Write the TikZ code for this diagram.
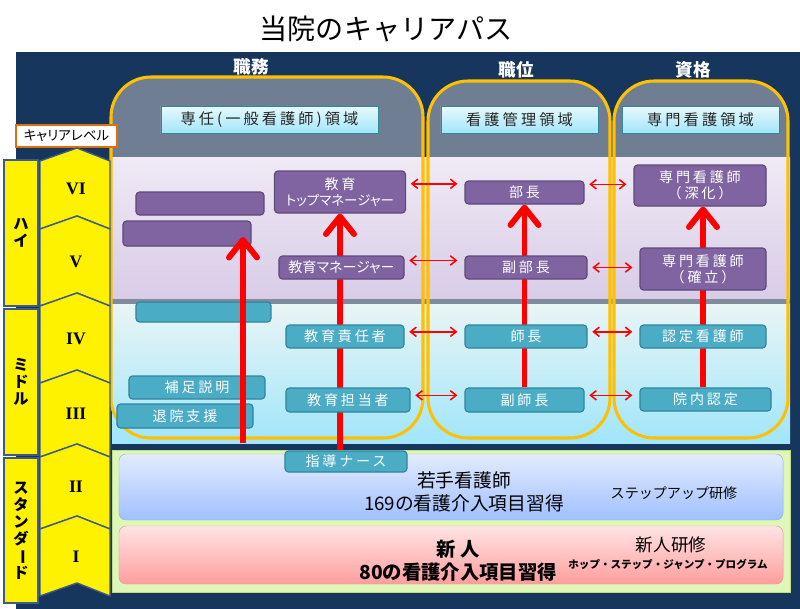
\documentclass[tikz,border=0pt]{standalone}
\usepackage{fontspec}
\usepackage{tikz}
\usetikzlibrary{arrows.meta}
\newfontfamily\jp{Noto Sans CJK JP}
\newfontfamily\jpwide{Noto Sans CJK JP}[LetterSpace=20]
\newfontfamily\jpnarrow{Noto Sans CJK JP}[RawFeature=+palt]
\newfontfamily\romfont{Liberation Serif}
\definecolor{navy}{RGB}{23,54,93}
\definecolor{slate}{RGB}{112,126,148}
\definecolor{colorange}{RGB}{255,192,0}
\definecolor{purplefill}{RGB}{128,100,162}
\definecolor{purpleedge}{RGB}{95,73,122}
\definecolor{tealfill}{RGB}{75,172,198}
\definecolor{tealedge}{RGB}{49,133,156}
\definecolor{headtop}{RGB}{232,249,253}
\definecolor{headbot}{RGB}{162,230,248}
\definecolor{chevedge}{RGB}{60,90,140}
\definecolor{levelorange}{RGB}{228,108,10}
\definecolor{highttop}{RGB}{240,234,245}
\definecolor{highbot}{RGB}{216,204,231}
\definecolor{midtop}{RGB}{234,245,245}
\definecolor{midbot}{RGB}{160,230,250}
\definecolor{divider}{RGB}{128,140,156}
\definecolor{stdfill}{RGB}{222,246,182}
\definecolor{stdedge}{RGB}{190,220,140}
\definecolor{bluetop}{RGB}{226,236,255}
\definecolor{bluebot}{RGB}{160,192,255}
\definecolor{blueedge}{RGB}{149,179,215}
\definecolor{redtop}{RGB}{255,228,228}
\definecolor{redbot}{RGB}{255,158,158}
\definecolor{rededge}{RGB}{230,150,150}
\pgfdeclarelayer{back}
\pgfdeclarelayer{arrows}
\pgfsetlayers{back,arrows,main}

\tikzset{
  purplebox/.style={draw=purpleedge, fill=purplefill, line width=1pt, rounded corners=3pt,
    text=white, font=\jpwide\fontsize{12pt}{14pt}\selectfont, align=center, inner sep=1pt},
  tealbox/.style={purplebox, draw=tealedge, fill=tealfill},
  headbox/.style={draw=tealedge, line width=0.8pt, top color=headtop, bottom color=headbot,
    minimum height=0.81cm, font=\jpwide\fontsize{13pt}{15pt}\selectfont, text=black!85},
  levelbox/.style={draw=chevedge, fill=yellow, line width=1.2pt, minimum width=1.02cm,
    font=\jp\bfseries\fontsize{13pt}{14.5pt}\selectfont, align=center},
  chevron/.style={draw=chevedge, fill=yellow, line width=1.2pt, line join=round},
  colhead/.style={text=white, font=\jp\bfseries\fontsize{15pt}{17pt}\selectfont},
  uparrow/.style={red, line width=5pt, -{Straight Barb[length=15pt,width=24pt,round]}},
  link/.style={red, line width=1.3pt,
    {Straight Barb[length=5pt,width=8pt]}-{Straight Barb[length=5pt,width=8pt]},
    shorten <=4pt, shorten >=6pt},
}

\begin{document}
\begin{tikzpicture}[x=0.03cm, y=-0.03cm]
  \useasboundingbox (0,0) rectangle (800,609);

  % background
  \begin{pgfonlayer}{back}
    \fill[navy] (16,52) rectangle (800,609);
    \foreach \xa/\ya/\xb in {111/77/423, 428/81/610, 614/81/788}
      \fill[slate, rounded corners=1.2cm] (\xa,\ya) rectangle (\xb,438);
    \shade[top color=highttop, bottom color=highbot] (112,157) rectangle (790,300);
    \shade[top color=midtop, bottom color=midbot] (112,303) rectangle (790,443);
    \fill[divider] (112,299) rectangle (790,304);
    \foreach \xa/\ya/\xb in {111/77/423, 428/81/610, 614/81/788}
      \draw[colorange, line width=2.6pt, rounded corners=1.2cm] (\xa,\ya) rectangle (\xb,438);
    \filldraw[fill=stdfill, draw=stdedge] (112,450) rectangle (790,592);
  \end{pgfonlayer}

  % title and column heads
  \node[font=\jp\fontsize{24pt}{28pt}\selectfont] (title) at (386,29) {当院のキャリアパス};
  \node[colhead] (shokumu) at (251,67) {職務};
  \node[colhead] (shokui) at (516,70) {職位};
  \node[colhead] (shikaku) at (693,70) {資格};
  \node[headbox, minimum width=6.51cm] (hdsennin) at (269.5,119.5) {専任(一般看護師)領域};
  \node[headbox, minimum width=4.71cm] (hdkanri) at (519.5,119.5) {看護管理領域};
  \node[headbox, minimum width=4.71cm] (hdsenmon) at (700.5,119.5) {専門看護領域};

  % career levels
  \node[draw=levelorange, fill=white, line width=1pt, minimum width=3.03cm, minimum height=0.66cm,
    inner sep=1pt, font=\jpnarrow\fontsize{11.5pt}{13pt}\selectfont] (career) at (66.5,136) {キャリアレベル};
  \node[levelbox, minimum height=4.38cm] (high) at (21,233) {ハ\\イ};
  \node[levelbox, minimum height=4.38cm] (middle) at (21,382) {ミ\\ド\\ル};
  \node[levelbox, minimum height=4.35cm] (standard) at (21,530.5)
    {ス\\タ\\ン\\ダ\\\rotatebox[origin=c]{-90}{ー}\\ド};
  \foreach \t/\b/\lv in {148/216/VI, 216/293/V, 293/370/IV, 370/444/III, 444/516/II, 516/583/I} {
    \draw[chevron] (40,\t+13) -- (77,\t) -- (110,\t+13) -- (110,\b+13) -- (77,\b) -- (40,\b+13) -- cycle;
    \node[font=\romfont\bfseries\fontsize{15pt}{15pt}\selectfont] (lv\lv) at (76,{(\t+\b)/2+7}) {\lv};
  }

  % high
  \node[purplebox, minimum width=3.84cm, minimum height=0.69cm] (blankA) at (200,203.5) {};
  \node[purplebox, minimum width=3.84cm, minimum height=0.75cm] (blankB) at (187,233.5) {};
  \node[purplebox, minimum width=3.93cm, minimum height=1.26cm] (toped) at (340,192)
    {教育\\{\jpnarrow\fontsize{11.5pt}{14pt}\selectfont トップマネージャー}};
  \node[purplebox, minimum width=3.75cm, minimum height=0.69cm, font=\jpnarrow\fontsize{12pt}{14pt}\selectfont]
    (edmgr) at (341.5,267.5) {教育マネージャー};
  \node[purplebox, minimum width=3.57cm, minimum height=0.69cm] (bucho) at (524.5,192.5) {部長};
  \node[purplebox, minimum width=3.66cm, minimum height=0.69cm] (fukubucho) at (526,267.5) {副部長};
  \node[purplebox, minimum width=3.96cm, minimum height=1.23cm] (shinka) at (700,185.5) {専門看護師\\（深化）};
  \node[purplebox, minimum width=3.78cm, minimum height=1.26cm] (kakuritsu) at (703,269) {専門看護師\\（確立）};

  % middle
  \node[tealbox, minimum width=4.05cm, minimum height=0.6cm] (blankC) at (203.5,312) {};
  \node[tealbox, minimum width=4.08cm, minimum height=0.69cm] (hosoku) at (197,387.5) {補足説明};
  \node[tealbox, minimum width=4.08cm, minimum height=0.72cm] (taiin) at (185,416) {退院支援};
  \node[tealbox, minimum width=3.54cm, minimum height=0.69cm] (sekinin) at (345,336.5) {教育責任者};
  \node[tealbox, minimum width=3.72cm, minimum height=0.72cm] (tanto) at (348,400) {教育担当者};
  \node[tealbox, minimum width=3.66cm, minimum height=0.69cm] (shicho) at (526,336.5) {師長};
  \node[tealbox, minimum width=3.57cm, minimum height=0.72cm] (fukushicho) at (524.5,400) {副師長};
  \node[tealbox, minimum width=3.78cm, minimum height=0.69cm] (nintei) at (703,336.5) {認定看護師};
  \node[tealbox, minimum width=3.93cm, minimum height=0.69cm] (innai) at (705.5,399.5) {院内認定};

  % standard
  \node[draw=blueedge, top color=bluetop, bottom color=bluebot, rounded corners=6pt,
    minimum width=19.92cm, minimum height=1.98cm] (wakate) at (451,487) {};
  \node[draw=rededge, top color=redtop, bottom color=redbot, rounded corners=6pt,
    minimum width=19.92cm, minimum height=1.74cm] (shinjin) at (451,555) {};
  \node[tealbox, minimum width=3.66cm, minimum height=0.63cm] (shidou) at (346,461.5) {指導ナース};
  \node[font=\jp\fontsize{16pt}{20pt}\selectfont, align=center] (wakatetxt) at (464,492)
    {若手看護師\\169の看護介入項目習得};
  \node[font=\jp\fontsize{12pt}{14pt}\selectfont] (stepup) at (674,493) {ステップアップ研修};
  \node[font=\jp\bfseries\fontsize{16.5pt}{20pt}\selectfont, align=center] (shinjintxt) at (458,561)
    {新 人\\80の看護介入項目習得};
  \node[font=\jp\fontsize{15pt}{17pt}\selectfont] (kenshu) at (671,545) {新人研修};
  \node[font=\jp\bfseries\fontsize{9pt}{11pt}\selectfont] (hop) at (668,564) {ホップ・ステップ・ジャンプ・プログラム};

  % red arrows
  \begin{pgfonlayer}{arrows}
    \draw[uparrow] (shidou.north -| toped.south) -- (toped.south);
    \draw[uparrow] (fukushicho.north) -- (bucho.south);
    \draw[uparrow] (innai.north -| nintei.north) -- (nintei.north |- shinka.south);
  \end{pgfonlayer}
  \coordinate (leftfoot) at (243,443);
  \draw[uparrow, shorten >=3pt] (leftfoot) -- (leftfoot |- blankB.center);

  \draw[link] ([yshift=7pt]toped.east) -- ([yshift=7pt]toped.east -| bucho.west);
  \draw[link] ([yshift=6pt]edmgr.east) -- ([yshift=6pt]edmgr.east -| fukubucho.west);
  \draw[link] ([yshift=4pt]sekinin.east) -- ([yshift=4pt]sekinin.east -| shicho.west);
  \draw[link] ([yshift=4pt]tanto.east) -- ([yshift=4pt]tanto.east -| fukushicho.west);
  \draw[link] ([yshift=7pt]bucho.east) -- ([yshift=7pt]bucho.east -| shinka.west);
  \draw[link] (fukubucho.east) -- (fukubucho.east -| kakuritsu.west);
  \draw[link] ([yshift=4pt]shicho.east) -- ([yshift=4pt]shicho.east -| nintei.west);
  \draw[link] ([yshift=4pt]fukushicho.east) -- ([yshift=4pt]fukushicho.east -| innai.west);
\end{tikzpicture}
\end{document}
